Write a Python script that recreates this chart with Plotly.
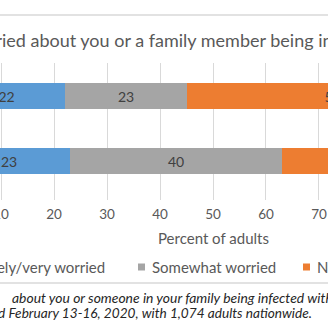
import plotly.graph_objects as go

# Survey responses (percent of adults)
groups = ["Row A", "Row B"]
levels = ["Extremely/very worried", "Somewhat worried", "Not too/not at all worried"]
very_worried = [22, 23]
somewhat_worried = [23, 40]
not_worried = [55, 37]
colors = ["#5B9BD5", "#A5A5A5", "#ED7D31"]
tick_values = [10, 20, 30, 40, 50, 60, 70]

W, H = 328, 328
TOP, BOTTOM = 63, 200  # plot area in pixels


def py(p):
    """pixel row -> paper y"""
    return (BOTTOM - p) / (BOTTOM - TOP)


def px(p):
    """pixel column -> paper x"""
    return p / W


FONT = "Lato"
GREY_TXT = "#595959"
fig = go.Figure()
ypos = [0, 1]
for name, vals, col in zip(levels, [very_worried, somewhat_worried, not_worried], colors):
    fig.add_trace(go.Bar(
        y=ypos, x=vals, name=name, orientation="h", marker=dict(color=col, line=dict(width=0)),
        width=0.4, text=vals, texttemplate="%{x}", textposition="inside",
        insidetextanchor="middle", textangle=0,
        textfont=dict(family=FONT, size=14, color="#404040"),
        cliponaxis=True, showlegend=False,
    ))

fig.update_layout(
    barmode="stack", width=W, height=H,
    margin=dict(l=0, r=0, t=TOP, b=H - BOTTOM, pad=0, autoexpand=False),
    paper_bgcolor="white", plot_bgcolor="white",
    bargap=0, showlegend=False,
    xaxis=dict(range=[9.81, 71.70], tickvals=tick_values, showgrid=True, gridcolor="#D9D9D9",
               gridwidth=1, zeroline=False, showline=False, ticks="", automargin=False,
               ticklabeloverflow="allow", ticklabelstandoff=4,
               tickfont=dict(family=FONT, size=13.5, color=GREY_TXT)),
    yaxis=dict(range=[1.6, -0.508], showticklabels=False, showgrid=False, zeroline=False,
               ticks="", automargin=False),
)

# Axis title, centred on the 0-100 scale
fig.add_annotation(text="Percent of adults", xref="x", yref="paper", x=50, y=py(238),
                   xanchor="center", yanchor="middle", showarrow=False,
                   font=dict(family=FONT, size=15, color=GREY_TXT))

# Title
fig.add_annotation(text="Worried about you or a family member being infected with coronavirus",
                   xref="paper", yref="paper", x=px(-41), y=py(40), xanchor="left",
                   yanchor="middle", showarrow=False,
                   font=dict(family=FONT, size=18, color=GREY_TXT))

# Legend drawn by hand
leg_y = 267
fig.add_annotation(text=levels[0], xref="paper", yref="paper", x=px(107), y=py(leg_y),
                   xanchor="right", yanchor="middle", showarrow=False,
                   font=dict(family=FONT, size=15, color=GREY_TXT))
for x0, name, col in [(-70, None, colors[0]), (138, levels[1], colors[1]), (303, levels[2], colors[2])]:
    fig.add_shape(type="rect", xref="paper", yref="paper",
                  x0=px(x0), x1=px(x0 + 7), y0=py(leg_y + 3.5), y1=py(leg_y - 3.5),
                  fillcolor=col, line=dict(width=0))
    if name:
        fig.add_annotation(text=name, xref="paper", yref="paper", x=px(x0 + 12), y=py(leg_y),
                           xanchor="left", yanchor="middle", showarrow=False,
                           font=dict(family=FONT, size=15, color=GREY_TXT))

# Separator lines
for yy in (15, 283):
    fig.add_shape(type="line", xref="paper", yref="paper", x0=0, x1=1,
                  y0=py(yy), y1=py(yy), line=dict(color="#D9D9D9", width=1.5))

# Footnote
fig.add_annotation(text="<i>Question: How worried are you</i>",
                   xref="paper", yref="paper", x=px(-1), y=py(297), xanchor="right",
                   yanchor="middle", showarrow=False,
                   font=dict(family=FONT, size=13.9, color="#262626"))
fig.add_annotation(text="<i>about you or someone in your family being infected with the coronavirus?</i>",
                   xref="paper", yref="paper", x=px(10), y=py(297), xanchor="left",
                   yanchor="middle", showarrow=False,
                   font=dict(family=FONT, size=13.9, color="#262626"))
fig.add_annotation(text="<i>Survey conducted February 13-16, 2020, with 1,074 adults nationwide.</i>",
                   xref="paper", yref="paper", x=px(314), y=py(313), xanchor="right",
                   yanchor="middle", showarrow=False,
                   font=dict(family=FONT, size=13.65, color="#262626"))

fig.write_html("out.html")
